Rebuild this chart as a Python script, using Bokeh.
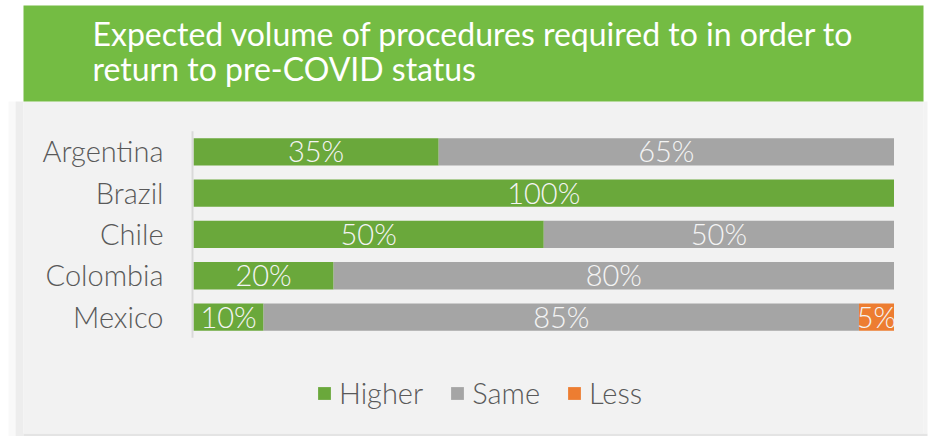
from bokeh.plotting import figure
from bokeh.models import BoxAnnotation, Label, ColumnDataSource, Range1d, Legend, LegendItem
from bokeh.core.properties import value
from bokeh.embed import file_html
from bokeh.resources import INLINE

# ---- data ----
countries = ["Argentina", "Brazil", "Chile", "Colombia", "Mexico"]
higher = [35, 100, 50, 20, 10]
same = [65, 0, 50, 80, 85]
less = [0, 0, 0, 0, 5]
series = ["Higher", "Same", "Less"]
colors = ["#6aa83b", "#a5a5a5", "#ed7d31"]
title_lines = ["Expected volume of procedures required to in order to",
               "return to pre-COVID status"]

LIGHT = "Lato Light"
REG = "Lato"
PANEL = "#f2f2f2"

# ---- page geometry (pixels) ----
W, H = 928, 436
PX0, PX100 = 193.0, 893.5          # where 0% and 100% fall
PY_FIRST, PITCH = 151.35, 41.3     # centre of first category row, row pitch
sx = (PX100 - PX0) / 100.0


def xd(px):
    return (px - PX0) / sx


def yd(py):
    return (py - PY_FIRST) / PITCH


p = figure(width=W, height=H,
           x_range=Range1d(xd(0), xd(W)), y_range=Range1d(yd(H), yd(0)),
           output_backend="svg", toolbar_location=None,
           x_axis_location=None, y_axis_location=None,
           min_border=0, min_border_left=0, min_border_right=0,
           min_border_top=0, min_border_bottom=0,
           background_fill_color="white", border_fill_color="white",
           outline_line_color=None)
p.grid.visible = False


def box(l, r, t, b, color):
    p.add_layout(BoxAnnotation(left=xd(l), right=xd(r), top=yd(t), bottom=yd(b),
                               fill_color=color, fill_alpha=1, line_color=None,
                               level="underlay"))


# shadow + panel + banner
box(8, 15, 101, H, "#f9f9f9")
box(15, 23, 101, H, "#ededed")
box(23, 927, 433, H, "#e4e4e4")
box(923, 927, 101, 433, "#f3f3f3")
box(23, 923, 101, 433, PANEL)
box(23, 923, 5, 101, "#74bc43")

for i, line in enumerate(title_lines):
    p.add_layout(Label(x=xd(92), y=yd(33 + 34.7 * i), text=line,
                       text_font=REG, text_font_size="32px", text_color="white",
                       text_baseline="middle", text_align="left"))

# bars
ypos = list(range(len(countries)))
src = ColumnDataSource(dict(y=ypos, Higher=higher, Same=same, Less=less))
renderers = p.hbar_stack(series, y="y", height=0.66, color=colors, source=src,
                         line_color=None)

# axis line
p.segment(x0=[xd(192)], y0=[-0.5], x1=[xd(192)], y1=[len(countries) - 0.5],
          line_color="#d9d9d9", line_width=2)

# category labels
p.text(x=[xd(163)] * len(countries), y=ypos, text=countries,
       text_font=value(LIGHT), text_font_size="29px", text_color="#595959",
       text_align="right", text_baseline="middle", y_offset=-1)

# value labels
lx, ly, lt = [], [], []
for i in range(len(countries)):
    left = 0
    for vals in (higher, same, less):
        v = vals[i]
        if v > 0:
            lx.append(left + v / 2)
            ly.append(i)
            lt.append(f"{v}%")
        left += v
p.text(x="x", y="y", text="t", source=ColumnDataSource(dict(x=lx, y=ly, t=lt)),
       text_font=value(LIGHT), text_font_size="29px", text_color="#f4f4f4",
       text_align="center", text_baseline="middle", y_offset=-1)

# legend
lg = Legend(items=[LegendItem(label=s, renderers=[r]) for s, r in zip(series, renderers)],
            orientation="horizontal", location=(316, 26),
            background_fill_alpha=0, border_line_color=None, padding=0, margin=0,
            spacing=26, glyph_width=16, glyph_height=16, label_standoff=7,
            label_text_font=LIGHT, label_text_font_size="29px",
            label_text_color="#595959")
p.add_layout(lg, "center")

open("out.html", "w").write(file_html(p, INLINE))
